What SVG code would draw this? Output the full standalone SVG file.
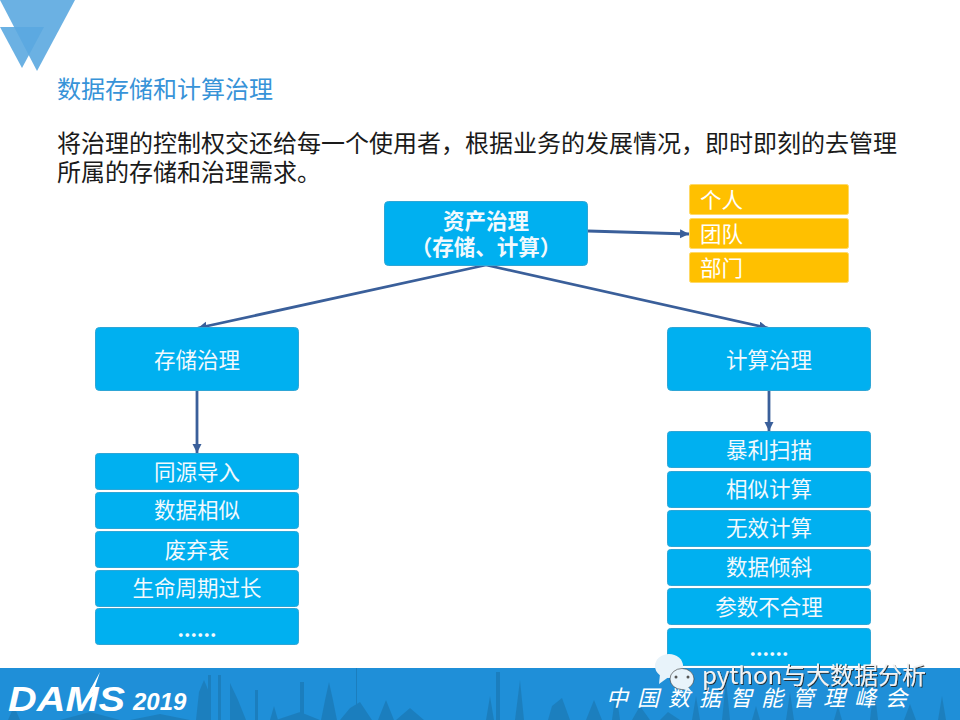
<svg xmlns="http://www.w3.org/2000/svg" width="960" height="720" viewBox="0 0 960 720">
<style>
text{font-family:"Noto Sans CJK SC","Noto Sans",sans-serif}
.b{fill:#00b0f0;stroke:#2ea6d6;stroke-width:1}
.y{fill:#ffc000;stroke:#ffd966;stroke-width:1}
.t{fill:#f2f9fd;font-size:21.5px;text-anchor:middle}
.d{fill:#f2f9fd;font-size:20px;text-anchor:middle;font-weight:700}
.l{fill:#fff;font-size:21.5px}
.c{fill:none;stroke:#3a5f9a;stroke-width:2.8;marker-end:url(#a)}
.s{fill:#1a74ae}
</style>
<defs>
<marker id="a" markerUnits="userSpaceOnUse" markerWidth="10" markerHeight="10" refX="9" refY="4.500" orient="auto"><path d="M0 0L9 4.500L0 9Z" fill="#3a5f9a"/></marker>
<filter id="sh" x="-5%" y="-20%" width="110%" height="140%"><feDropShadow dx="1" dy="1" stdDeviation=".5" flood-color="#222" flood-opacity=".9"/></filter>
</defs>
<rect width="960" height="720" fill="#fff"/>
<g id="corner">
<polygon points="0,0 75,0 37,71" fill="#5ba8e0" opacity=".9"/>
<polygon points="0,27 44,27 22,68" fill="#5ba8e0" opacity=".9"/>
</g>
<text x="57" y="98" font-size="24" fill="#3793d8">数据存储和计算治理</text>
<text x="57" y="152" font-size="24" fill="#1a1a1a">将治理的控制权交还给每一个使用者，根据业务的发展情况，即时即刻的去管理</text>
<text x="57" y="181" font-size="24" fill="#1a1a1a">所属的存储和治理需求。</text>

<g id="connectors">
<line class="c" x1="588" y1="231" x2="689" y2="234"/>
<line class="c" x1="486" y1="265" x2="198" y2="328"/>
<line class="c" x1="486" y1="265" x2="768" y2="328"/>
<line class="c" x1="197" y1="391" x2="197" y2="453"/>
<line class="c" x1="769" y1="391" x2="769" y2="431"/>
</g>

<g id="root"><rect class="b" x="384.500" y="201.500" width="203" height="64" rx="4"/>
<text class="t" x="486" y="229" font-weight="700" font-size="20">资产治理</text>
<text class="t" x="486" y="255" font-weight="700" font-size="20">（存储、计算）</text></g>
<g id="y1"><rect class="y" x="689.500" y="184.500" width="159" height="30" rx="2"/><text class="l" x="700" y="208">个人</text></g>
<g id="y2"><rect class="y" x="689.500" y="218.500" width="159" height="30" rx="2"/><text class="l" x="700" y="242">团队</text></g>
<g id="y3"><rect class="y" x="689.500" y="252.500" width="159" height="30" rx="2"/><text class="l" x="700" y="276">部门</text></g>

<g id="storage"><rect class="b" x="95.500" y="327.500" width="203" height="63" rx="4"/><text class="t" x="197" y="368">存储治理</text></g>
<g id="compute"><rect class="b" x="667.500" y="327.500" width="203" height="63" rx="4"/><text class="t" x="769" y="368">计算治理</text></g>

<g id="s1"><rect class="b" x="95.500" y="453.500" width="203" height="36" rx="3"/><text class="t" x="197" y="480">同源导入</text></g>
<g id="s2"><rect class="b" x="95.500" y="492.500" width="203" height="36" rx="3"/><text class="t" x="197" y="518">数据相似</text></g>
<g id="s3"><rect class="b" x="95.500" y="531.500" width="203" height="36" rx="3"/><text class="t" x="197" y="558">废弃表</text></g>
<g id="s4"><rect class="b" x="95.500" y="570.500" width="203" height="36" rx="3"/><text class="t" x="197" y="596">生命周期过长</text></g>
<g id="s5"><rect class="b" x="95.500" y="608.500" width="203" height="36" rx="3"/><text class="d" x="197" y="637">......</text></g>

<g id="c1"><rect class="b" x="667.500" y="431.500" width="203" height="36" rx="3"/><text class="t" x="769" y="458">暴利扫描</text></g>
<g id="c2"><rect class="b" x="667.500" y="471.500" width="203" height="36" rx="3"/><text class="t" x="769" y="497">相似计算</text></g>
<g id="c3"><rect class="b" x="667.500" y="510.500" width="203" height="36" rx="3"/><text class="t" x="769" y="536">无效计算</text></g>
<g id="c4"><rect class="b" x="667.500" y="549.500" width="203" height="36" rx="3"/><text class="t" x="769" y="575">数据倾斜</text></g>
<g id="c5"><rect class="b" x="667.500" y="588.500" width="203" height="36" rx="3"/><text class="t" x="769" y="615">参数不合理</text></g>
<g id="c6"><rect class="b" x="667.500" y="628.500" width="203" height="37" rx="3"/><text class="d" x="769" y="656">......</text></g>

<g id="footer">
<rect x="0" y="668" width="960" height="52" fill="#1f8fd8"/>
<g opacity=".6">
<path class="s" d="M8 720L14 706L20 720ZM60 720L90 712L120 720ZM130 720L160 714L190 720ZM196 720L199 692L204 680L209 692L211 720ZM208 675H211V720H208ZM218 675H221V720H218ZM230 720L230 683L238 700L246 720ZM255 690H258V720H255ZM270 720L274 706L278 720ZM276 720L300 712L320 720ZM300 682H304V720H300ZM321 720L325 700L329 682L333 700L337 720ZM340 720L350 708L360 702L372 720ZM378 720L386 700L394 720ZM396 720L410 708L424 720Z"/>
<path class="s" d="M486 720L490 696L494 720ZM496 672H500V720H496ZM515 720L520 680L524 720ZM548 720L552 706L562 698L570 720ZM586 720L594 700L602 720ZM612 720L616 690L620 720ZM632 720L640 706L650 720ZM660 720L668 712L680 720ZM692 720L696 696L700 720ZM722 720L726 680L730 720ZM752 720L756 706L760 720ZM786 720L790 692L794 720ZM834 720L838 706L842 720ZM870 720L874 686L878 720ZM904 720L910 704L916 720ZM938 720L942 696L946 720Z"/>
<rect class="s" x="356" y="668" width="1" height="52"/>
</g>
<text x="8" y="711" font-size="35" font-weight="700" font-style="italic" fill="#fff" textLength="117" lengthAdjust="spacingAndGlyphs" style="font-family:'Liberation Sans',sans-serif">DAMS</text>
<polygon points="100,672 90,690 93,692 85,702 97,693 94,690" fill="#fff"/>
<text x="133" y="710" font-size="24" font-weight="700" font-style="italic" fill="#fff" style="font-family:'Liberation Sans',sans-serif">2019</text>
<text x="606" y="706" font-size="22" font-style="italic" fill="#fff" letter-spacing="9">中国数据智能管理峰会</text>
</g>

<g id="watermark">
<ellipse cx="669" cy="666" rx="14" ry="12" fill="#e8f3fa"/>
<polygon points="660,674 659,684 670,676" fill="#e8f3fa"/>
<ellipse cx="682" cy="679" rx="12" ry="10.500" fill="#e8f3fa" stroke="#333" stroke-width=".6"/>
<polygon points="688,687 692,692 680,688" fill="#e8f3fa"/>
<circle cx="676" cy="677" r="1.500" fill="#555"/><circle cx="688" cy="677" r="1.500" fill="#555"/>
<text x="702" y="684" font-size="24" fill="#f3f3f3" filter="url(#sh)">python与大数据分析</text>
</g>
</svg>
